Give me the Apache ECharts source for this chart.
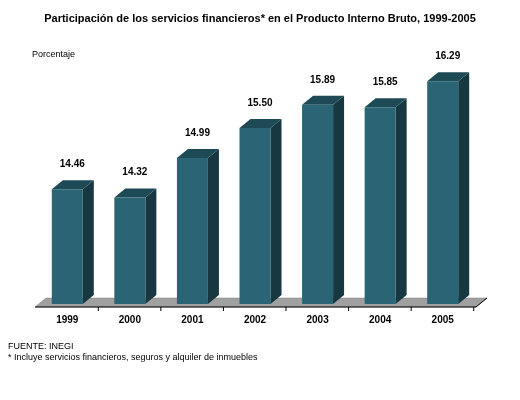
<!DOCTYPE html>
<html><head><meta charset="utf-8">
<script src="https://cdn.jsdelivr.net/npm/echarts@6/dist/echarts.min.js"></script>
<style>html,body{margin:0;padding:0;background:#fff}#c{width:520px;height:400px}</style>
</head><body><div id="c"></div>
<script>
const categories = ['1999','2000','2001','2002','2003','2004','2005'];
const values = [14.46, 14.32, 14.99, 15.50, 15.89, 15.85, 16.29];
const labels = ['14.46','14.32','14.99','15.50','15.89','15.85','16.29'];
const yMin = 12.5, yMax = 16.65;

const chart = echarts.init(document.getElementById('c'));
const DX = 11, DY = 9, W = 31;
chart.setOption({
  animation: false,
  title: [
    {text: 'Participación de los servicios financieros* en el Producto Interno Bruto, 1999-2005', left: 'center', top: 8,
     textStyle: {fontFamily: 'Liberation Sans', fontSize: 11, fontWeight: 'bold', color: '#000'}},
    {text: 'Porcentaje', left: 27, top: 45, textStyle: {fontFamily: 'Liberation Sans', fontSize: 9, fontWeight: 'normal', color: '#000'}},
    {text: 'FUENTE: INEGI', left: 3, top: 337, textStyle: {fontFamily: 'Liberation Sans', fontSize: 9, fontWeight: 'normal', color: '#000'}},
    {text: '* Incluye servicios financieros, seguros y alquiler de inmuebles', left: 3, top: 348, textStyle: {fontFamily: 'Liberation Sans', fontSize: 9, fontWeight: 'normal', color: '#000'}}
  ],
  grid: {left: 36, right: 46, top: 60, bottom: 95},
  xAxis: {type: 'category', data: categories, axisLine: {show: false}, axisTick: {show: false},
    axisLabel: {margin: 10, fontFamily: 'Liberation Sans', fontSize: 10, fontWeight: 'bold', color: '#000'}},
  yAxis: {type: 'value', min: yMin, max: yMax, show: false, splitLine: {show: false}},
  series: [
    {type: 'custom', data: [0], z: 1, renderItem: function (params, api) {
      const cs = params.coordSys;
      const y0 = api.coord([0, yMin])[1] + 2;
      const x0 = cs.x - 1, x1 = cs.x + cs.width + 2;
      return {type: 'group', children: [
        {type: 'polygon', shape: {points: [[x0, y0], [x1, y0], [x1 + DX, y0 - DY], [x0 + DX, y0 - DY]]},
         style: {fill: '#a0a0a0', stroke: '#808080', lineWidth: 0.5}},
        {type: 'line', shape: {x1: x0, y1: y0, x2: x1, y2: y0}, style: {stroke: '#000', lineWidth: 1}},
        {type: 'line', shape: {x1: x1, y1: y0, x2: x1 + DX, y2: y0 - DY}, style: {stroke: '#000', lineWidth: 1}}
      ].concat(categories.map((c, i) => {
        const x = api.coord([i, yMin])[0];
        return {type: 'line', shape: {x1: x + 31, y1: y0, x2: x + 31, y2: y0 + 4}, style: {stroke: '#000', lineWidth: 1}};
      }))};
    }},
    {type: 'custom', data: values.map((v, i) => [i, v]), z: 2, renderItem: function (params, api) {
      const top = api.coord([api.value(0), api.value(1)]);
      const base = api.coord([api.value(0), yMin]);
      const xl = top[0] - W / 2, xr = xl + W, yt = top[1], yb = base[1] - 1;
      return {type: 'group', children: [
        {type: 'polygon', shape: {points: [[xr, yt], [xr + DX, yt - DY], [xr + DX, yb - DY], [xr, yb]]}, style: {fill: '#173840'}},
        {type: 'polygon', shape: {points: [[xl, yt], [xl + DX, yt - DY], [xr + DX, yt - DY], [xr, yt]]}, style: {fill: '#1e4a55'}},
        {type: 'rect', shape: {x: xl, y: yt, width: W, height: yb - yt}, style: {fill: '#2a6475'}},
        {type: 'text', x: top[0] + 5, y: yt - 20, style: {text: labels[params.dataIndex], align: 'center', verticalAlign: 'bottom',
          fontFamily: 'Liberation Sans', fontSize: 10, fontWeight: 'bold', fill: '#000'}}
      ]};
    }}
  ]
});
</script></body></html>
